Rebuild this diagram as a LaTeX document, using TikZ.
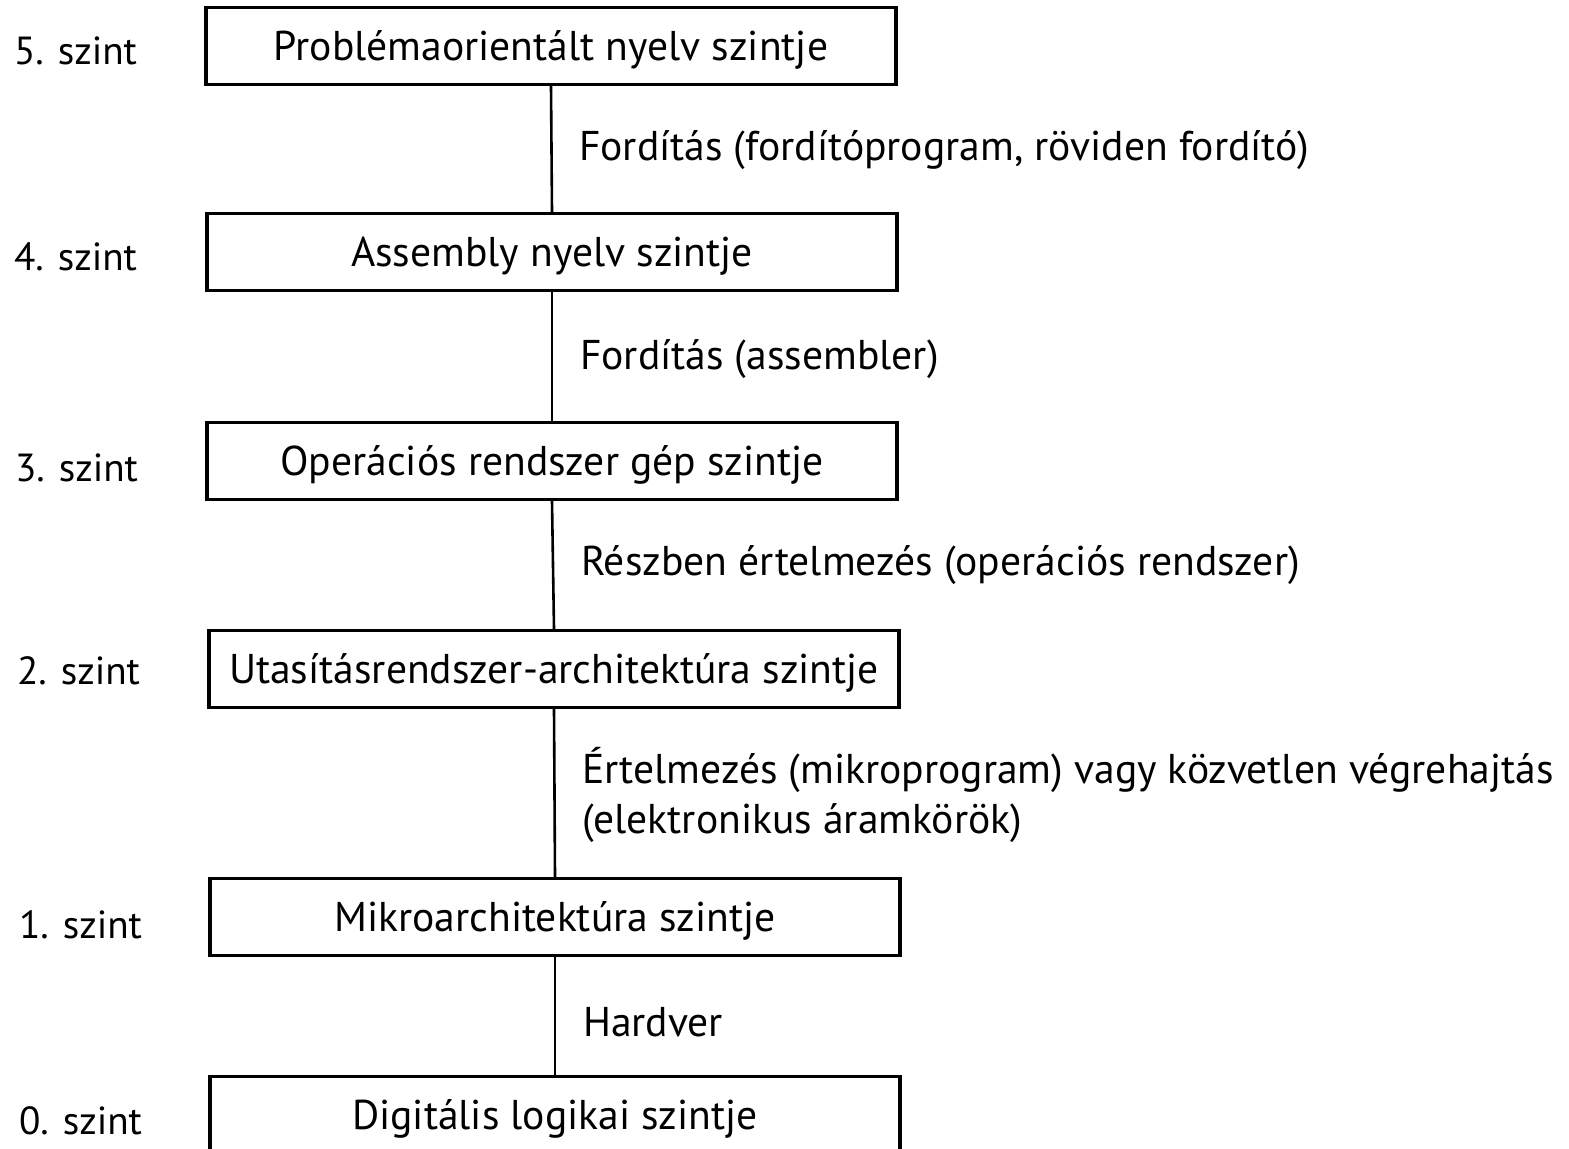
\documentclass[tikz,border=0pt]{standalone}
\usepackage{fontspec}
\setmainfont{PT Sans}
\usepackage{tikz}
\usetikzlibrary{positioning}

\begin{document}
\begin{tikzpicture}[
    x=0.5pt, y=-0.5pt,
    every node/.style={font=\fontsize{20.8}{25}\selectfont},
    levelbox/.style={draw, line width=1.6pt, minimum width=345pt, minimum height=38.5pt, inner sep=0pt, text depth=0pt},
    levelname/.style={anchor=west, font=\fontsize{19.6}{24}\selectfont},
    steplabel/.style={anchor=west, align=left},
    link/.style={line width=1.3pt},
]
    \clip (0,0) rectangle (1569,1148);

    % Levels (top to bottom)
    \node[levelbox] (l5) at (551,  46) {Problémaorientált nyelv szintje};
    \node[levelbox] (l4) at (552, 252) {Assembly nyelv szintje};
    \node[levelbox] (l3) at (552, 461) {Operációs rendszer gép szintje};
    \node[levelbox] (l2) at (554, 669) {Utasításrendszer-architektúra szintje};
    \node[levelbox] (l1) at (555, 917) {Mikroarchitektúra szintje};
    \node[levelbox] (l0) at (555,1115) {Digitális logikai szintje};

    % Level numbers on the left
    \node[levelname] (n5) at (7,  51) {5. szint};
    \node[levelname] (n4) at (7, 257) {4. szint};
    \node[levelname] (n3) at (8, 468) {3. szint};
    \node[levelname] (n2) at (10, 671) {2. szint};
    \node[levelname] (n1) at (12, 925) {1. szint};
    \node[levelname] (n0) at (12,1121) {0. szint};

    % Connectors between levels
    \foreach \a/\b in {l5/l4, l4/l3, l3/l2, l2/l1, l1/l0} {
        \draw[link] (\a.south) -- (\b.north);
    }

    % How each level is carried out
    \node[steplabel] (s54) at (572, 150) {Fordítás (fordítóprogram, röviden fordító)};
    \node[steplabel] (s43) at (573, 359) {Fordítás (assembler)};
    \node[steplabel] (s32) at (574, 565) {Részben értelmezés (operációs rendszer)};
    \node[steplabel] (s21) at (575, 795) {Értelmezés (mikroprogram) vagy közvetlen végrehajtás\\(elektronikus áramkörök)};
    \node[steplabel] (s10) at (576,1022) {Hardver};
\end{tikzpicture}
\end{document}
